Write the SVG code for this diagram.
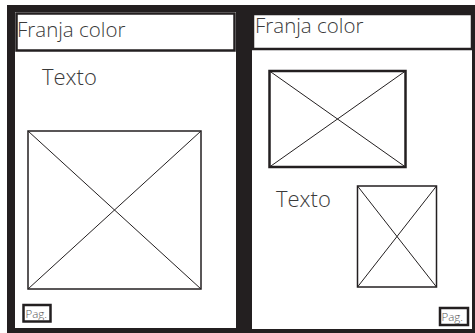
<svg xmlns="http://www.w3.org/2000/svg" width="475" height="333" viewBox="0 0 475 333">
<style>
.bg{fill:#231f20}
.page{fill:#ffffff}
.box{fill:#ffffff;stroke:#231f20}
.thin{stroke-width:1.5}
.thick{stroke-width:2.5}
.diag{stroke:#231f20;stroke-width:1;fill:none}
.t{font-family:"Open Sans","DejaVu Sans",sans-serif;fill:#3a3a3a;font-weight:300}
.big{font-size:20.5px}
.mid{font-size:22px}
.small{font-size:11.5px;fill:#555}
</style>
<rect class="bg" x="7" y="5" width="468" height="328"/>
<g id="page-left">
  <rect class="page" x="15" y="12" width="221" height="316"/>
  <g id="franja-left">
    <rect class="box thick" x="16.5" y="13.5" width="218" height="37"/>
    <text class="t big" x="17" y="37">Franja color</text>
  </g>
  <g id="texto-left">
    <text class="t mid" x="42" y="85">Texto</text>
  </g>
  <g id="image-left">
    <rect class="box thin" x="28" y="131" width="173" height="158"/>
    <line class="diag" x1="28" y1="131" x2="201" y2="289"/>
    <line class="diag" x1="201" y1="131" x2="28" y2="289"/>
  </g>
  <g id="pag-left">
    <rect class="box thick" x="23.5" y="305" width="27" height="16.5"/>
    <text class="t small" x="25.5" y="318">Pag.</text>
  </g>
</g>
<g id="page-right">
  <rect class="page" x="252" y="13" width="220" height="316"/>
  <g id="franja-right">
    <rect class="box thick" x="253" y="14" width="219" height="35"/>
    <text class="t big" x="255" y="33">Franja color</text>
  </g>
  <g id="image-right-top">
    <rect class="box thick" x="269.5" y="71" width="136" height="96"/>
    <line class="diag" x1="269.5" y1="71" x2="405.5" y2="167"/>
    <line class="diag" x1="405.5" y1="71" x2="269.5" y2="167"/>
  </g>
  <g id="texto-right">
    <text class="t mid" x="276" y="207">Texto</text>
  </g>
  <g id="image-right-bottom">
    <rect class="box thin" x="357.5" y="186" width="79" height="101"/>
    <line class="diag" x1="357.5" y1="186" x2="436.5" y2="287"/>
    <line class="diag" x1="436.5" y1="186" x2="357.5" y2="287"/>
  </g>
  <g id="pag-right">
    <rect class="box thick" x="440" y="308" width="28" height="17"/>
    <text class="t small" x="441.5" y="321">Pag.</text>
  </g>
</g>
<g id="connectors"/>
</svg>
